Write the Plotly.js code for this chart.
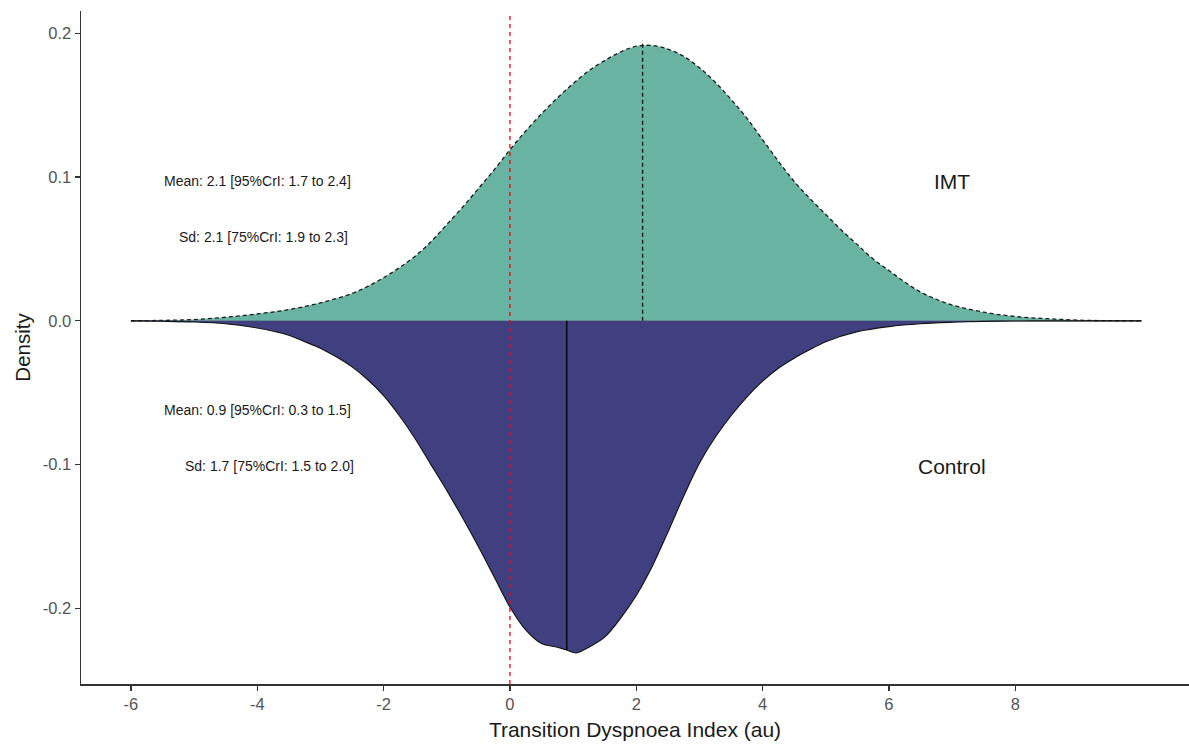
<!DOCTYPE html>
<html>
<head>
<meta charset="utf-8">
<script src="https://cdn.plot.ly/plotly-3.0.1.min.js"></script>
<style>html,body{margin:0;padding:0;background:#fff;}#chart{width:1189px;height:745px;}</style>
</head>
<body>
<div id="chart"></div>
<script>
// IMT posterior density (upper half)
const imtX = [-6,-5.5,-5,-4.5,-4,-3.5,-3,-2.5,-2.25,-2,-1.75,-1.5,-1.25,-1,-0.75,-0.5,-0.25,0,0.25,0.5,0.75,1,1.25,1.5,1.75,2,2.25,2.5,2.75,3,3.25,3.5,3.75,4,4.25,4.5,4.75,5,5.25,5.5,5.75,6,6.25,6.5,6.75,7,7.5,8,8.5,9,9.5,10];
const imtY = [0,0.0003,0.0009,0.0025,0.0048,0.0078,0.0125,0.019,0.024,0.030,0.037,0.045,0.055,0.067,0.079,0.092,0.105,0.119,0.132,0.144,0.155,0.165,0.174,0.181,0.187,0.191,0.1915,0.189,0.184,0.176,0.166,0.154,0.141,0.126,0.111,0.097,0.085,0.074,0.063,0.053,0.043,0.035,0.027,0.020,0.015,0.011,0.006,0.003,0.0015,0.0005,0.0001,0];

// Control posterior density (mirrored, lower half)
const ctlX = [-6,-5.5,-5,-4.5,-4,-3.5,-3.25,-3,-2.75,-2.5,-2.25,-2,-1.75,-1.5,-1.25,-1,-0.75,-0.5,-0.25,0,0.25,0.5,0.75,0.9,1.05,1.25,1.5,1.75,2,2.25,2.5,2.75,3,3.25,3.5,3.75,4,4.25,4.5,4.75,5,5.5,6,6.5,7,7.5,8,8.5,9,10];
const ctlY = [0,-0.0003,-0.0008,-0.002,-0.005,-0.010,-0.0145,-0.019,-0.025,-0.032,-0.041,-0.052,-0.066,-0.082,-0.100,-0.118,-0.137,-0.157,-0.178,-0.199,-0.215,-0.2245,-0.227,-0.229,-0.231,-0.227,-0.220,-0.207,-0.191,-0.171,-0.147,-0.122,-0.099,-0.081,-0.066,-0.053,-0.042,-0.033,-0.026,-0.020,-0.0145,-0.0075,-0.004,-0.002,-0.001,-0.0004,-0.0001,0,0,0];

const groups = ["IMT", "Control"];
const means = [2.1, 0.9];
const meanHeights = [0.195, -0.229];
const meanText = ["Mean: 2.1 [95%CrI: 1.7 to 2.4]", "Mean: 0.9 [95%CrI: 0.3 to 1.5]"];
const sdText = ["Sd: 2.1 [75%CrI: 1.9 to 2.3]", "Sd: 1.7 [75%CrI: 1.5 to 2.0]"];
const meanTextPos = [[-4.0, 0.0975], [-4.0, -0.062]];
const sdTextPos = [[-3.9, 0.058], [-3.8, -0.101]];
const groupLabelPos = [[7.0, 0.097], [7.0, -0.1015]];
const refLine = 0;

const xTicks = [-6,-4,-2,0,2,4,6,8];
const xTickText = ["-6","-4","-2","0","2","4","6","8"];
const yTicks = [0.2,0.1,0,-0.1,-0.2];
const yTickText = ["0.2","0.1","0.0","-0.1","-0.2"];

const FONT = "Liberation Sans, Arial, sans-serif";

const traces = [
  {x: [-6, 10], y: [0, 0], mode: "lines", line: {color: "#7f7f7f", width: 1.5}, hoverinfo: "skip", showlegend: false},
  {x: imtX, y: imtY, mode: "lines", fill: "tozeroy", fillcolor: "#69b3a2",
   line: {color: "#1a1a1a", width: 1.3, dash: "4px,3px", shape: "spline", smoothing: 1}, name: groups[0], showlegend: false},
  {x: ctlX, y: ctlY, mode: "lines", fill: "tozeroy", fillcolor: "#404080",
   line: {color: "#111111", width: 1.1, shape: "spline", smoothing: 0.9}, name: groups[1], showlegend: false},
  {x: [means[0], means[0]], y: [0, meanHeights[0]], mode: "lines", line: {color: "#1a1a1a", width: 1.4, dash: "4px,3px"}, showlegend: false, hoverinfo: "skip"},
  {x: [means[1], means[1]], y: [0, meanHeights[1]], mode: "lines", line: {color: "#000000", width: 1.3}, showlegend: false, hoverinfo: "skip"}
];

const annotations = [];
for (let i = 0; i < 2; i++) {
  annotations.push({x: meanTextPos[i][0], y: meanTextPos[i][1], text: meanText[i], showarrow: false, xanchor: "center", yanchor: "middle", font: {family: FONT, size: 14, color: "#1a1a1a"}});
  annotations.push({x: sdTextPos[i][0], y: sdTextPos[i][1], text: sdText[i], showarrow: false, xanchor: "center", yanchor: "middle", font: {family: FONT, size: 14, color: "#1a1a1a"}});
  annotations.push({x: groupLabelPos[i][0], y: groupLabelPos[i][1], text: groups[i], showarrow: false, xanchor: "center", yanchor: "middle", font: {family: FONT, size: 21, color: "#1a1a1a"}});
}

const layout = {
  width: 1189, height: 745,
  margin: {l: 81, r: 0, t: 11, b: 61},
  paper_bgcolor: "#ffffff", plot_bgcolor: "#ffffff",
  font: {family: FONT},
  xaxis: {
    range: [-6.79, 10.75], showgrid: false, zeroline: false,
    showline: true, linecolor: "#333333", linewidth: 1.5,
    ticks: "outside", ticklen: 5, tickcolor: "#333333", tickwidth: 1.2,
    tickvals: xTicks, ticktext: xTickText,
    tickfont: {family: FONT, size: 16.5, color: "#555555"},
    title: {text: "Transition Dyspnoea Index (au)", font: {family: FONT, size: 21, color: "#1a1a1a"}, standoff: 10}
  },
  yaxis: {
    range: [-0.2526, 0.2155], showgrid: false, zeroline: false,
    showline: true, linecolor: "#333333", linewidth: 1.5,
    ticks: "outside", ticklen: 5, tickcolor: "#333333", tickwidth: 1.2,
    tickvals: yTicks, ticktext: yTickText,
    tickfont: {family: FONT, size: 16.5, color: "#555555"},
    title: {text: "Density", font: {family: FONT, size: 20.5, color: "#1a1a1a"}, standoff: 6}
  },
  shapes: [
    {type: "line", xref: "x", yref: "paper", x0: refLine, x1: refLine, y0: 0, y1: 0.994,
     line: {color: "#ff0000", width: 1.3, dash: "4px,4px"}, layer: "above"}
  ],
  annotations: annotations,
  showlegend: false
};

Plotly.newPlot("chart", traces, layout, {displayModeBar: false, staticPlot: true});
</script>
</body>
</html>
